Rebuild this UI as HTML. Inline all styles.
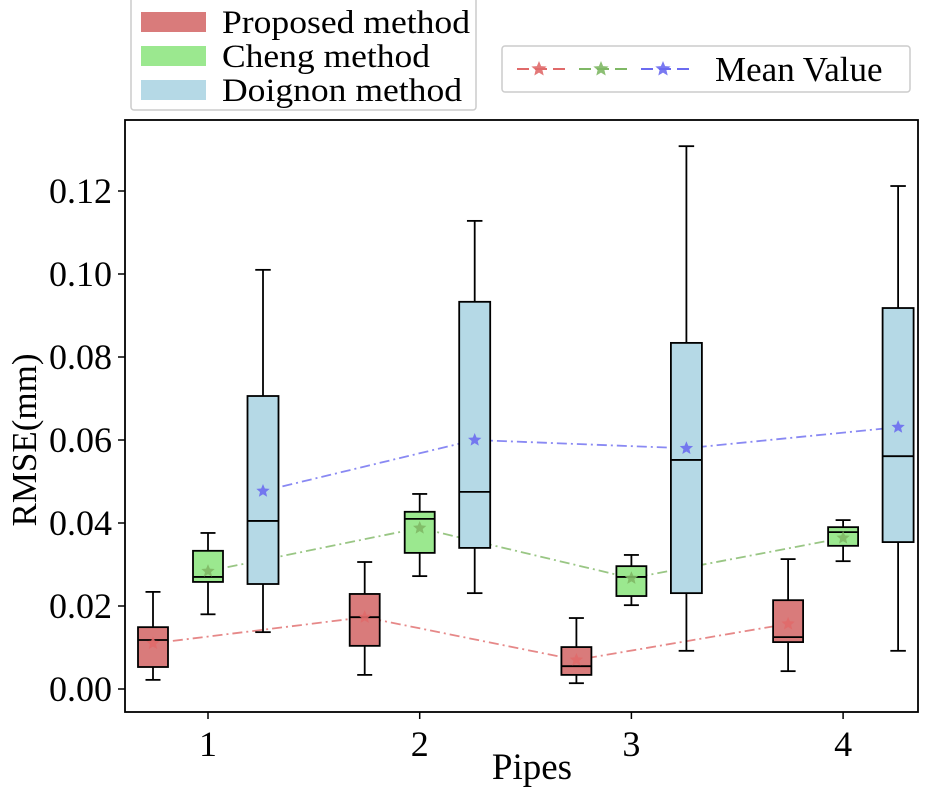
<!DOCTYPE html>
<html><head><meta charset="utf-8"><style>
body{margin:0;background:#fff}
svg text{font-family:"Liberation Serif",serif;fill:#000}
</style></head><body>
<svg id="c" width="926" height="788"></svg>
<script>
const pipes=["1","2","3","4"];
const methods=["Proposed method","Cheng method","Doignon method"];
// [low, q1, median, q3, high] per pipe
const proposedStats=[[0.0022,0.0053,0.0118,0.0149,0.0234],[0.0034,0.0104,0.0173,0.0229,0.0306],[0.0014,0.0034,0.0055,0.0101,0.0171],[0.0043,0.0113,0.0125,0.0214,0.0313]];
const chengStats=[[0.018,0.0258,0.027,0.0333,0.0376],[0.0272,0.0328,0.041,0.0427,0.047],[0.0202,0.0224,0.027,0.0296,0.0323],[0.0308,0.0345,0.0378,0.039,0.0407]];
const doignonStats=[[0.0137,0.0253,0.0405,0.0706,0.101],[0.0231,0.034,0.0475,0.0933,0.1128],[0.0092,0.0231,0.0552,0.0834,0.1308],[0.0092,0.0354,0.0561,0.0918,0.1212]];
const proposedMean=[0.011,0.0173,0.007,0.0157];
const chengMean=[0.0284,0.0388,0.0267,0.0364];
const doignonMean=[0.0477,0.06,0.058,0.0631];
const yTicks=[0,0.02,0.04,0.06,0.08,0.1,0.12];
const yTickLabels=["0.00","0.02","0.04","0.06","0.08","0.10","0.12"];

const NS="http://www.w3.org/2000/svg";
const svg=document.getElementById('c');
function mk(t,a,p){const e=document.createElementNS(NS,t);for(const k in a)e.setAttribute(k,a[k]);(p||svg).appendChild(e);return e;}
const L=125,R=918,T=120,B=712;
const y=v=>689-v*4150;
const x=i=>208+i*211.7;
const fills=["#d97b7b","#9be88f","#b5d9e6"];
const lineC=["#e06a6a","#7fb865","#6b6bf0"];
const stats=[proposedStats,chengStats,doignonStats];
const means=[proposedMean,chengMean,doignonMean];
const offs=[-55,0,55];
yTicks.forEach((v,i)=>{
 const t=mk('line',{x1:L-7,x2:L,y1:y(v),y2:y(v),stroke:'#000','stroke-width':1.5});
 
 const tx=mk('text',{x:L-13,y:y(v)+12,'text-anchor':'end','font-size':36});tx.textContent=yTickLabels[i];
 
});
pipes.forEach((p,i)=>{
 mk('line',{x1:x(i),x2:x(i),y1:B,y2:B+7,stroke:'#000','stroke-width':1.5});
 const tx=mk('text',{x:x(i),y:B+44,'text-anchor':'middle','font-size':36});tx.textContent=p;
 
});
means.forEach((m,s)=>{
 const pts=m.map((v,i)=>(x(i)+offs[s])+','+y(v)).join(' ');
 const pl=mk('polyline',{points:pts,fill:'none',stroke:lineC[s],'stroke-width':1.8,'stroke-dasharray':'10 4 2 4',opacity:0.8});
 
});
stats.forEach((st,s)=>{
 st.forEach((d,i)=>{
  const cx=x(i)+offs[s],w=s==2?31:30;
  const g=mk('g',{});
  
  
  mk('line',{x1:cx,x2:cx,y1:y(d[0]),y2:y(d[1]),stroke:'#000','stroke-width':1.8},g);
  mk('line',{x1:cx,x2:cx,y1:y(d[3]),y2:y(d[4]),stroke:'#000','stroke-width':1.8},g);
  mk('line',{x1:cx-w/4,x2:cx+w/4,y1:y(d[0]),y2:y(d[0]),stroke:'#000','stroke-width':1.8},g);
  mk('line',{x1:cx-w/4,x2:cx+w/4,y1:y(d[4]),y2:y(d[4]),stroke:'#000','stroke-width':1.8},g);
  mk('rect',{x:cx-w/2,y:y(d[3]),width:w,height:y(d[1])-y(d[3]),fill:fills[s],stroke:'#000','stroke-width':1.8},g);
  mk('line',{x1:cx-w/2,x2:cx+w/2,y1:y(d[2]),y2:y(d[2]),stroke:'#000','stroke-width':1.8},g);
 });
});
function star(cx,cy,r,c){let p=[];for(let k=0;k<10;k++){const a=-Math.PI/2+k*Math.PI/5,rr=k%2?r*0.45:r;p.push((cx+rr*Math.cos(a))+','+(cy+rr*Math.sin(a)));}return mk('polygon',{points:p.join(' '),fill:c,opacity:0.9});}
means.forEach((m,s)=>m.forEach((v,i)=>{
 const st=star(x(i)+offs[s],y(v),7,lineC[s]);
 
}));
const fr=mk('rect',{x:L,y:T,width:R-L,height:B-T,fill:'none',stroke:'#000','stroke-width':1.8});

const yl=mk('text',{x:0,y:0,'font-size':35,'text-anchor':'middle',transform:'translate(36,440) rotate(-90)'});yl.textContent="RMSE(mm)";

const xl=mk('text',{x:532,y:779,'font-size':37,'text-anchor':'middle'});xl.textContent="Pipes";

const lg=mk('g',{});
mk('rect',{x:131,y:-5,width:345,height:115,fill:'#fff',stroke:'#ccc','stroke-width':1.5,rx:3},lg);
methods.forEach((m,i)=>{
 const yy=22+i*34;
 const r=mk('rect',{x:141,y:yy-10,width:65,height:20,fill:fills[i]},lg);
 
 const t=mk('text',{x:222,y:yy+11,'font-size':33,textLength:i==0?248:(i==1?208:240),lengthAdjust:'spacingAndGlyphs'},lg);t.textContent=m;
 
});
const lg2=mk('g',{});
mk('rect',{x:502,y:46,width:408,height:46,fill:'#fff',stroke:'#ccc','stroke-width':1.5,rx:3},lg2);
[0,1,2].forEach(s=>{
 const sx=517+s*62;
 mk('line',{x1:sx,x2:sx+48,y1:69,y2:69,stroke:lineC[s],'stroke-width':2,'stroke-dasharray':'12 6'},lg2);
 star(sx+22,69,8,lineC[s]);
});
const mv=mk('text',{x:715,y:81,'font-size':35},lg2);mv.textContent="Mean Value";

</script>
</body></html>
